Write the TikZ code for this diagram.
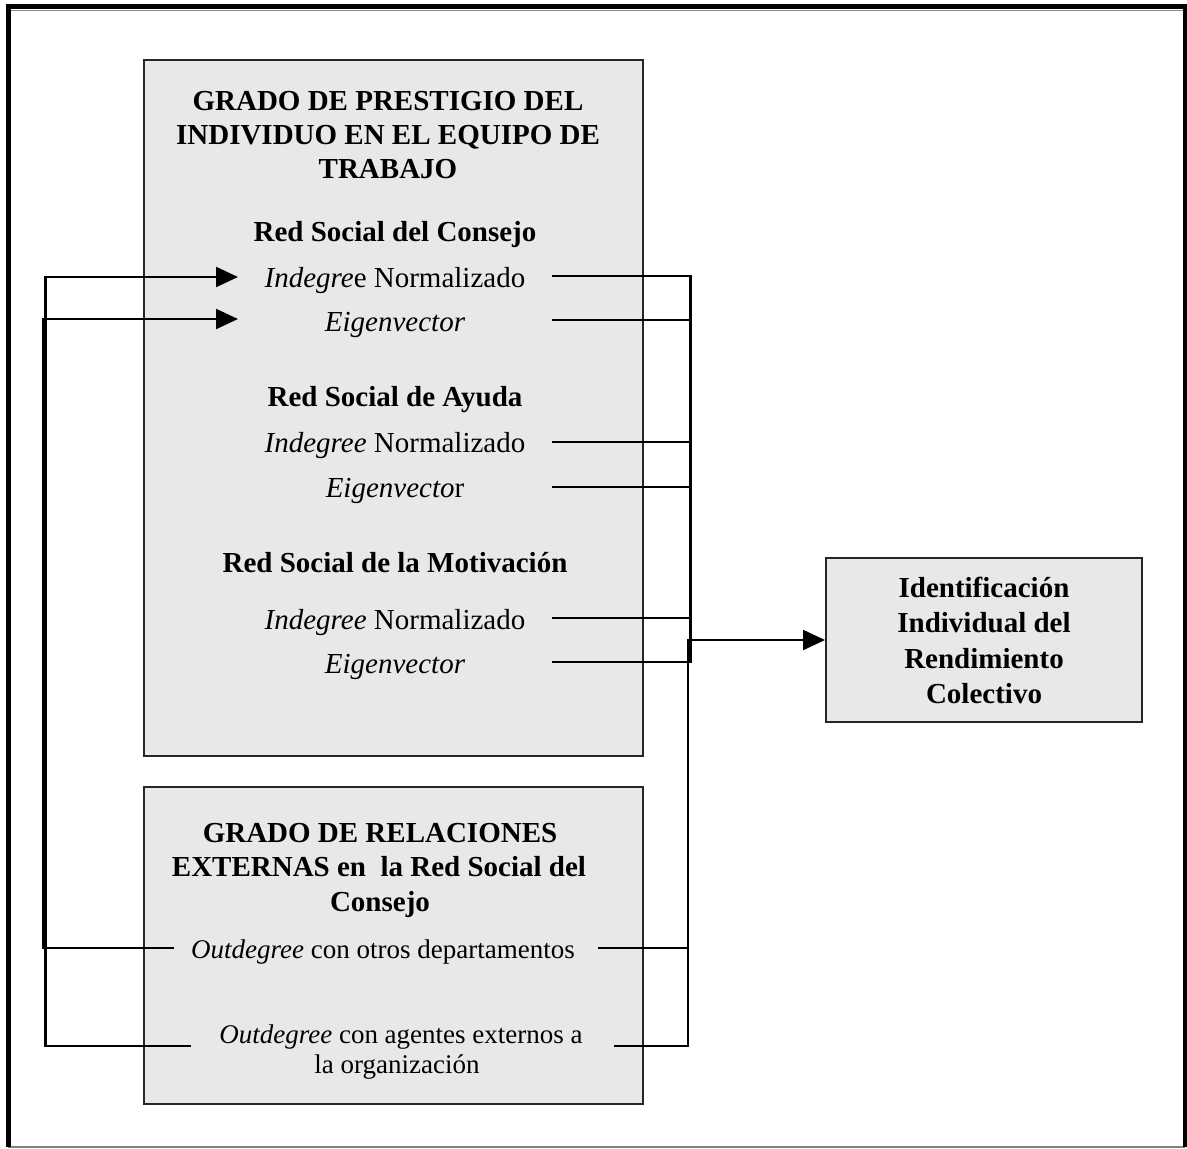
\documentclass[tikz,border=0pt]{standalone}
\usepackage{fontspec}
\setmainfont{Liberation Serif}
\usetikzlibrary{arrows.meta}
\begin{document}
\begin{tikzpicture}[x=1pt,y=-1pt,
  panel/.style={draw=black!85, line width=2pt, fill=black!9, inner sep=0pt},
  hdr/.style={font=\fontsize{29}{34}\selectfont\bfseries, anchor=base, inner sep=0pt},
  item/.style={font=\fontsize{29}{34}\selectfont, anchor=base, inner sep=0pt},
  minor/.style={font=\fontsize{27}{31}\selectfont, anchor=base, inner sep=0pt},
  link/.style={line width=2.2pt},
  arrowlink/.style={link, -{Triangle[length=22pt,width=20pt]}},
]
\useasboundingbox (0,0) rectangle (1187,1149);

% page frame
\draw[line width=1pt, black!45] (11,10) -- (1183,10);
\draw[line width=1.5pt, black!50] (8,1147) -- (1185,1147);
\draw[line width=5pt] (8.5,1147) -- (8.5,6.5) -- (1185.5,6.5) -- (1185.5,1147);

% panels
\node[panel, minimum width=499pt, minimum height=696pt] (prestige) at (393.5,408) {};
\node[panel, minimum width=499pt, minimum height=317pt] (external) at (393.5,945.5) {};
\node[panel, minimum width=316pt, minimum height=164pt] (result) at (984,640) {};

% prestige panel text
\node[hdr] (p1) at (388,110) {GRADO DE PRESTIGIO DEL};
\node[hdr] (p2) at (388,144) {INDIVIDUO EN EL EQUIPO DE};
\node[hdr] (p3) at (388,178) {TRABAJO};

\node[hdr]  (consejo) at (395,241) {Red Social del Consejo};
\node[item] (ind1) at (395,287) {\textit{Indegre}e Normalizado};
\node[item] (eig1) at (395,331) {\textit{Eigenvector}};

\node[hdr]  (ayuda) at (395,406) {Red Social de Ayuda};
\node[item] (ind2) at (395,452) {\textit{Indegree} Normalizado};
\node[item] (eig2) at (395,497) {\textit{Eigenvecto}r};

\node[hdr]  (motiv) at (395,572) {Red Social de la Motivación};
\node[item] (ind3) at (395,629) {\textit{Indegree} Normalizado};
\node[item] (eig3) at (395,673) {\textit{Eigenvector}};

% external relations panel text
\node[hdr] (e1) at (380,842) {GRADO DE RELACIONES};
\node[hdr] (e2) at (379,876) {EXTERNAS en\ \ la Red Social del};
\node[hdr] (e3) at (380,911) {Consejo};
\node[minor] (out1) at (383,958) {\textit{Outdegree} con otros departamentos};
\node[minor] (out2) at (401,1043) {\textit{Outdegree} con agentes externos a};
\node[minor] (out2b) at (397,1073) {la organización};

% result panel text
\node[hdr] (r1) at (984,597) {Identificación};
\node[hdr] (r2) at (984,632) {Individual del};
\node[hdr] (r3) at (984,668) {Rendimiento};
\node[hdr] (r4) at (984,703) {Colectivo};

% connector ends
\coordinate (ind1R) at (552,276);
\coordinate (eig1R) at (552,320);
\coordinate (ind2R) at (552,442);
\coordinate (eig2R) at (552,487);
\coordinate (ind3R) at (552,618);
\coordinate (eig3R) at (552,662);
\coordinate (ind1L) at (238,277);
\coordinate (eig1L) at (238,319);
\coordinate (out1L) at (174,948);
\coordinate (out1R) at (598,948);
\coordinate (out2L) at (191,1046);
\coordinate (out2R) at (614,1046);

% prestige measures collected on the right
\draw[link] (ind1R) -- (690.5,276) -- (690.5,662) -- (eig3R);
\foreach \c/\y in {eig1R/320, ind2R/442, eig2R/487, ind3R/618}
  \draw[link] (\c) -- (690.5,\y);

% external measures fed back to the prestige measures
\draw[arrowlink] (out1L) -- (43,948) -- (43,319) -- (eig1L);
\draw[arrowlink] (out2L) -- (45.5,1046) -- (45.5,277) -- (ind1L);

% external measures leading to the result
\draw[link] (out1R) -- (688,948);
\draw[arrowlink] (out2R) -- (688,1046) -- (688,640) -- (result.west);
\end{tikzpicture}
\end{document}
